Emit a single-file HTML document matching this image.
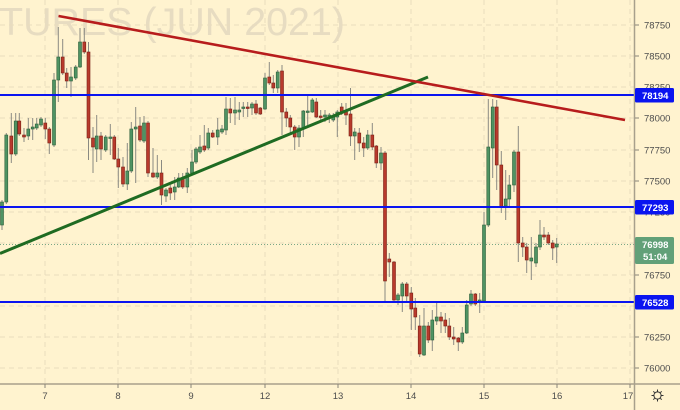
<!DOCTYPE html>
<html><head><meta charset="utf-8"><style>
html,body{margin:0;padding:0;background:#fff3cf;}
svg{display:block;}
.w{stroke:#8a8a82;stroke-width:1}
.g{fill:#4f9363;stroke:#2d5f3b;stroke-width:.6}
.r{fill:#b83a2c;stroke:#7a2016;stroke-width:.6}
.gr{stroke:#e9dcbd;stroke-width:1;stroke-dasharray:5 4}
.t{font-family:"Liberation Sans",sans-serif;font-size:9.5px;fill:#4d4d4d}
.lb{font-family:"Liberation Sans",sans-serif;font-size:9.5px;fill:#fff;font-weight:bold}
</style></head><body>
<svg width="680" height="410" viewBox="0 0 680 410" xmlns="http://www.w3.org/2000/svg">
<rect x="0" y="0" width="680" height="410" fill="#fff3cf"/>
<text x="-1" y="35" font-family="Liberation Sans, sans-serif" font-size="39" fill="#e7dcc1" textLength="346" lengthAdjust="spacingAndGlyphs">TURES (JUN 2021)</text>
<g class="gr">
<line x1="0" x2="634" y1="25" y2="25"/><line x1="0" x2="634" y1="56" y2="56"/><line x1="0" x2="634" y1="87" y2="87"/><line x1="0" x2="634" y1="118" y2="118"/><line x1="0" x2="634" y1="150" y2="150"/><line x1="0" x2="634" y1="181" y2="181"/><line x1="0" x2="634" y1="212" y2="212"/><line x1="0" x2="634" y1="243" y2="243"/><line x1="0" x2="634" y1="275" y2="275"/><line x1="0" x2="634" y1="306" y2="306"/><line x1="0" x2="634" y1="337" y2="337"/><line x1="0" x2="634" y1="368" y2="368"/>
<line x1="45" x2="45" y1="0" y2="384"/><line x1="118" x2="118" y1="0" y2="384"/><line x1="191" x2="191" y1="0" y2="384"/><line x1="265" x2="265" y1="0" y2="384"/><line x1="338" x2="338" y1="0" y2="384"/><line x1="411" x2="411" y1="0" y2="384"/><line x1="484" x2="484" y1="0" y2="384"/><line x1="557" x2="557" y1="0" y2="384"/><line x1="630" x2="630" y1="0" y2="384"/>
</g>
<line x1="0" x2="634" y1="244.5" y2="244.5" stroke="#7aa886" stroke-width="1" stroke-dasharray="1 2"/>
<g>
<line class="w" x1="2" x2="2" y1="200" y2="230"/><rect class="g" x="0.5" y="202" width="3" height="23"/>
<line class="w" x1="6.3" x2="6.3" y1="133" y2="204"/><rect class="g" x="4.8" y="135" width="3" height="67"/>
<line class="w" x1="11.3" x2="11.3" y1="113" y2="163"/><rect class="r" x="9.8" y="136" width="3" height="18"/>
<line class="w" x1="15.7" x2="15.7" y1="113" y2="156"/><rect class="g" x="14.2" y="121" width="3" height="33"/>
<line class="w" x1="19.3" x2="19.3" y1="113" y2="136"/><rect class="r" x="17.8" y="121" width="3" height="13"/>
<line class="w" x1="24" x2="24" y1="128" y2="142"/><rect class="r" x="22.5" y="135" width="3" height="2"/>
<line class="w" x1="28.3" x2="28.3" y1="118" y2="140"/><rect class="g" x="26.8" y="129" width="3" height="7"/>
<line class="w" x1="32.7" x2="32.7" y1="118" y2="140"/><rect class="g" x="31.2" y="127" width="3" height="2"/>
<line class="w" x1="36.7" x2="36.7" y1="118" y2="130"/><rect class="g" x="35.2" y="124" width="3" height="4"/>
<line class="w" x1="41" x2="41" y1="117" y2="127"/><rect class="g" x="39.5" y="119" width="3" height="6"/>
<line class="w" x1="45.3" x2="45.3" y1="118" y2="139"/><rect class="r" x="43.8" y="123" width="3" height="6"/>
<line class="w" x1="49.3" x2="49.3" y1="127" y2="154"/><rect class="r" x="47.8" y="129" width="3" height="14"/>
<line class="w" x1="54" x2="54" y1="73" y2="147"/><rect class="g" x="52.5" y="80" width="3" height="65"/>
<line class="w" x1="58.3" x2="58.3" y1="27" y2="102"/><rect class="g" x="56.8" y="57" width="3" height="23"/>
<line class="w" x1="62.7" x2="62.7" y1="39" y2="75"/><rect class="r" x="61.2" y="57" width="3" height="16"/>
<line class="w" x1="66.7" x2="66.7" y1="68" y2="88"/><rect class="r" x="65.2" y="73" width="3" height="8"/>
<line class="w" x1="71" x2="71" y1="67" y2="97"/><rect class="g" x="69.5" y="77" width="3" height="4"/>
<line class="w" x1="75.7" x2="75.7" y1="65" y2="80"/><rect class="g" x="74.2" y="67" width="3" height="11"/>
<line class="w" x1="80" x2="80" y1="28" y2="68"/><rect class="g" x="78.5" y="42" width="3" height="25"/>
<line class="w" x1="84.3" x2="84.3" y1="28" y2="54"/><rect class="r" x="82.8" y="42" width="3" height="10"/>
<line class="w" x1="88.5" x2="88.5" y1="42" y2="160"/><rect class="r" x="87" y="52" width="3" height="86"/>
<line class="w" x1="93" x2="93" y1="127" y2="173"/><rect class="r" x="91.5" y="138" width="3" height="9"/>
<line class="w" x1="96.7" x2="96.7" y1="115" y2="162"/><rect class="g" x="95.2" y="136" width="3" height="13"/>
<line class="w" x1="101" x2="101" y1="132" y2="160"/><rect class="r" x="99.5" y="136" width="3" height="13"/>
<line class="w" x1="105.7" x2="105.7" y1="135" y2="152"/><rect class="g" x="104.2" y="137" width="3" height="13"/>
<line class="w" x1="110.3" x2="110.3" y1="124" y2="155"/><rect class="g" x="108.8" y="137" width="3" height="1.5"/>
<line class="w" x1="114.3" x2="114.3" y1="135" y2="160"/><rect class="r" x="112.8" y="137" width="3" height="22"/>
<line class="w" x1="118.3" x2="118.3" y1="148" y2="188"/><rect class="r" x="116.8" y="159" width="3" height="8"/>
<line class="w" x1="123" x2="123" y1="157" y2="187"/><rect class="r" x="121.5" y="167" width="3" height="17"/>
<line class="w" x1="127.3" x2="127.3" y1="143" y2="190"/><rect class="g" x="125.8" y="171" width="3" height="13"/>
<line class="w" x1="131.3" x2="131.3" y1="122" y2="173"/><rect class="g" x="129.8" y="129" width="3" height="42"/>
<line class="w" x1="135.7" x2="135.7" y1="107" y2="183"/><rect class="g" x="134.2" y="127" width="3" height="2"/>
<line class="w" x1="140" x2="140" y1="117" y2="142"/><rect class="r" x="138.5" y="126" width="3" height="14"/>
<line class="w" x1="144" x2="144" y1="116" y2="143"/><rect class="g" x="142.5" y="123" width="3" height="18"/>
<line class="w" x1="148" x2="148" y1="121" y2="177"/><rect class="r" x="146.5" y="123" width="3" height="50"/>
<line class="w" x1="153" x2="153" y1="148" y2="178"/><rect class="r" x="151.5" y="173" width="3" height="4"/>
<line class="w" x1="157.3" x2="157.3" y1="155" y2="179"/><rect class="g" x="155.8" y="173" width="3" height="4"/>
<line class="w" x1="161.5" x2="161.5" y1="160" y2="205"/><rect class="r" x="160" y="173" width="3" height="22"/>
<line class="w" x1="166" x2="166" y1="188" y2="202"/><rect class="g" x="164.5" y="190" width="3" height="6"/>
<line class="w" x1="170.3" x2="170.3" y1="185" y2="200"/><rect class="r" x="168.8" y="188" width="3" height="5"/>
<line class="w" x1="174.7" x2="174.7" y1="177" y2="200"/><rect class="g" x="173.2" y="187" width="3" height="5"/>
<line class="w" x1="178.7" x2="178.7" y1="173" y2="188"/><rect class="g" x="177.2" y="178" width="3" height="9"/>
<line class="w" x1="182.7" x2="182.7" y1="173" y2="189"/><rect class="r" x="181.2" y="178" width="3" height="9"/>
<line class="w" x1="187.3" x2="187.3" y1="168" y2="193"/><rect class="g" x="185.8" y="173" width="3" height="14"/>
<line class="w" x1="192" x2="192" y1="150" y2="175"/><rect class="g" x="190.5" y="162" width="3" height="11"/>
<line class="w" x1="196" x2="196" y1="147" y2="164"/><rect class="g" x="194.5" y="149" width="3" height="13"/>
<line class="w" x1="200" x2="200" y1="135" y2="154"/><rect class="g" x="198.5" y="147" width="3" height="5"/>
<line class="w" x1="204.3" x2="204.3" y1="125" y2="152"/><rect class="r" x="202.8" y="146" width="3" height="4"/>
<line class="w" x1="208.3" x2="208.3" y1="128" y2="150"/><rect class="g" x="206.8" y="133" width="3" height="15"/>
<line class="w" x1="212.7" x2="212.7" y1="130" y2="138"/><rect class="r" x="211.2" y="133" width="3" height="4"/>
<line class="w" x1="217.7" x2="217.7" y1="118" y2="145"/><rect class="g" x="216.2" y="130" width="3" height="7"/>
<line class="w" x1="222" x2="222" y1="125" y2="134"/><rect class="g" x="220.5" y="129" width="3" height="3"/>
<line class="w" x1="226" x2="226" y1="97" y2="135"/><rect class="g" x="224.5" y="109" width="3" height="21"/>
<line class="w" x1="230.3" x2="230.3" y1="98" y2="123"/><rect class="r" x="228.8" y="109" width="3" height="4"/>
<line class="w" x1="235" x2="235" y1="97" y2="125"/><rect class="g" x="233.5" y="110" width="3" height="3"/>
<line class="w" x1="239.3" x2="239.3" y1="102" y2="120"/><rect class="g" x="237.8" y="110" width="3" height="2"/>
<line class="w" x1="243.3" x2="243.3" y1="102" y2="117"/><rect class="g" x="241.8" y="107" width="3" height="1.5"/>
<line class="w" x1="247.7" x2="247.7" y1="102" y2="117"/><rect class="r" x="246.2" y="107" width="3" height="1.5"/>
<line class="w" x1="252" x2="252" y1="102" y2="115"/><rect class="g" x="250.5" y="104" width="3" height="4"/>
<line class="w" x1="256" x2="256" y1="100" y2="115"/><rect class="r" x="254.5" y="104" width="3" height="9"/>
<line class="w" x1="260.3" x2="260.3" y1="107" y2="115"/><rect class="r" x="258.8" y="108" width="3" height="6"/>
<line class="w" x1="265" x2="265" y1="73" y2="110"/><rect class="g" x="263.5" y="78" width="3" height="31"/>
<line class="w" x1="269.3" x2="269.3" y1="62" y2="85"/><rect class="r" x="267.8" y="77" width="3" height="6"/>
<line class="w" x1="273.3" x2="273.3" y1="75" y2="93"/><rect class="r" x="271.8" y="83" width="3" height="5"/>
<line class="w" x1="277.7" x2="277.7" y1="70" y2="93"/><rect class="g" x="276.2" y="72" width="3" height="16"/>
<line class="w" x1="282" x2="282" y1="65" y2="135"/><rect class="r" x="280.5" y="71" width="3" height="41"/>
<line class="w" x1="286.3" x2="286.3" y1="108" y2="127"/><rect class="r" x="284.8" y="112" width="3" height="6"/>
<line class="w" x1="290.3" x2="290.3" y1="115" y2="133"/><rect class="r" x="288.8" y="118" width="3" height="9"/>
<line class="w" x1="294.7" x2="294.7" y1="125" y2="150"/><rect class="r" x="293.2" y="127" width="3" height="10"/>
<line class="w" x1="299" x2="299" y1="125" y2="147"/><rect class="g" x="297.5" y="128" width="3" height="9"/>
<line class="w" x1="303.3" x2="303.3" y1="110" y2="137"/><rect class="g" x="301.8" y="111" width="3" height="17"/>
<line class="w" x1="307.7" x2="307.7" y1="95" y2="125"/><rect class="g" x="306.2" y="111" width="3" height="1.5"/>
<line class="w" x1="312.3" x2="312.3" y1="98" y2="113"/><rect class="g" x="310.8" y="100" width="3" height="12"/>
<line class="w" x1="316.3" x2="316.3" y1="98" y2="118"/><rect class="r" x="314.8" y="102" width="3" height="15"/>
<line class="w" x1="320.7" x2="320.7" y1="110" y2="122"/><rect class="r" x="319.2" y="116" width="3" height="1.5"/>
<line class="w" x1="325" x2="325" y1="110" y2="122"/><rect class="g" x="323.5" y="115" width="3" height="2"/>
<line class="w" x1="329.3" x2="329.3" y1="113" y2="123"/><rect class="g" x="327.8" y="115" width="3" height="2"/>
<line class="w" x1="333.3" x2="333.3" y1="113" y2="122"/><rect class="g" x="331.8" y="117" width="3" height="3"/>
<line class="w" x1="337.3" x2="337.3" y1="110" y2="137"/><rect class="g" x="335.8" y="112" width="3" height="5"/>
<line class="w" x1="341.7" x2="341.7" y1="103" y2="115"/><rect class="r" x="340.2" y="107" width="3" height="5"/>
<line class="w" x1="346" x2="346" y1="103" y2="125"/><rect class="r" x="344.5" y="112" width="3" height="3"/>
<line class="w" x1="350.5" x2="350.5" y1="88" y2="146"/><rect class="r" x="349" y="114" width="3" height="22"/>
<line class="w" x1="354.7" x2="354.7" y1="128" y2="160"/><rect class="g" x="353.2" y="132" width="3" height="4"/>
<line class="w" x1="359.3" x2="359.3" y1="128" y2="152"/><rect class="r" x="357.8" y="133" width="3" height="10"/>
<line class="w" x1="363.7" x2="363.7" y1="137" y2="157"/><rect class="r" x="362.2" y="143" width="3" height="5"/>
<line class="w" x1="367.7" x2="367.7" y1="130" y2="150"/><rect class="g" x="366.2" y="135" width="3" height="13"/>
<line class="w" x1="372.3" x2="372.3" y1="123" y2="150"/><rect class="r" x="370.8" y="135" width="3" height="12"/>
<line class="w" x1="376.3" x2="376.3" y1="145" y2="168"/><rect class="r" x="374.8" y="146" width="3" height="17"/>
<line class="w" x1="381" x2="381" y1="147" y2="170"/><rect class="g" x="379.5" y="153" width="3" height="10"/>
<line class="w" x1="385" x2="385" y1="151" y2="302"/><rect class="r" x="383.5" y="153" width="3" height="128"/>
<line class="w" x1="389.3" x2="389.3" y1="253" y2="277"/><rect class="r" x="387.8" y="259" width="3" height="3"/>
<line class="w" x1="394" x2="394" y1="261" y2="302"/><rect class="r" x="392.5" y="262" width="3" height="38"/>
<line class="w" x1="398" x2="398" y1="293" y2="305"/><rect class="g" x="396.5" y="295" width="3" height="5"/>
<line class="w" x1="402.3" x2="402.3" y1="282" y2="312"/><rect class="g" x="400.8" y="284" width="3" height="12"/>
<line class="w" x1="406.7" x2="406.7" y1="282" y2="302"/><rect class="r" x="405.2" y="284" width="3" height="12"/>
<line class="w" x1="411.3" x2="411.3" y1="287" y2="330"/><rect class="r" x="409.8" y="293" width="3" height="16"/>
<line class="w" x1="415.3" x2="415.3" y1="298" y2="330"/><rect class="r" x="413.8" y="308" width="3" height="9"/>
<line class="w" x1="419.7" x2="419.7" y1="315" y2="357"/><rect class="r" x="418.2" y="326" width="3" height="28"/>
<line class="w" x1="424" x2="424" y1="308" y2="356"/><rect class="g" x="422.5" y="326" width="3" height="29"/>
<line class="w" x1="428.3" x2="428.3" y1="322" y2="343"/><rect class="r" x="426.8" y="326" width="3" height="14"/>
<line class="w" x1="432.3" x2="432.3" y1="310" y2="351"/><rect class="g" x="430.8" y="320" width="3" height="20"/>
<line class="w" x1="436.7" x2="436.7" y1="303" y2="325"/><rect class="g" x="435.2" y="317" width="3" height="4"/>
<line class="w" x1="441" x2="441" y1="312" y2="333"/><rect class="r" x="439.5" y="317" width="3" height="4"/>
<line class="w" x1="445.3" x2="445.3" y1="313" y2="333"/><rect class="r" x="443.8" y="320" width="3" height="6"/>
<line class="w" x1="449.3" x2="449.3" y1="318" y2="340"/><rect class="r" x="447.8" y="326" width="3" height="11"/>
<line class="w" x1="453.7" x2="453.7" y1="327" y2="345"/><rect class="r" x="452.2" y="337" width="3" height="2"/>
<line class="w" x1="458.3" x2="458.3" y1="337" y2="351"/><rect class="r" x="456.8" y="338" width="3" height="4"/>
<line class="w" x1="462.3" x2="462.3" y1="327" y2="344"/><rect class="g" x="460.8" y="333" width="3" height="9"/>
<line class="w" x1="466.7" x2="466.7" y1="300" y2="334"/><rect class="g" x="465.2" y="305" width="3" height="28"/>
<line class="w" x1="471" x2="471" y1="290" y2="306"/><rect class="g" x="469.5" y="294" width="3" height="10"/>
<line class="w" x1="475.3" x2="475.3" y1="293" y2="306"/><rect class="r" x="473.8" y="294" width="3" height="10"/>
<line class="w" x1="479.7" x2="479.7" y1="293" y2="313"/><rect class="g" x="478.2" y="300" width="3" height="2"/>
<line class="w" x1="484" x2="484" y1="212" y2="302"/><rect class="g" x="482.5" y="225" width="3" height="76"/>
<line class="w" x1="488.3" x2="488.3" y1="99" y2="227"/><rect class="g" x="486.8" y="147" width="3" height="78"/>
<line class="w" x1="492.7" x2="492.7" y1="99" y2="178"/><rect class="g" x="491.2" y="107" width="3" height="41"/>
<line class="w" x1="496.7" x2="496.7" y1="100" y2="190"/><rect class="r" x="495.2" y="107" width="3" height="58"/>
<line class="w" x1="501.3" x2="501.3" y1="151" y2="213"/><rect class="r" x="499.8" y="165" width="3" height="42"/>
<line class="w" x1="505.7" x2="505.7" y1="170" y2="220"/><rect class="g" x="504.2" y="199" width="3" height="7"/>
<line class="w" x1="509.3" x2="509.3" y1="175" y2="207"/><rect class="g" x="507.8" y="185" width="3" height="14"/>
<line class="w" x1="514" x2="514" y1="150" y2="192"/><rect class="g" x="512.5" y="152" width="3" height="33"/>
<line class="w" x1="518.3" x2="518.3" y1="126" y2="262"/><rect class="r" x="516.8" y="152" width="3" height="91"/>
<line class="w" x1="522.7" x2="522.7" y1="237" y2="257"/><rect class="r" x="521.2" y="243" width="3" height="4"/>
<line class="w" x1="526.7" x2="526.7" y1="243" y2="273"/><rect class="r" x="525.2" y="247" width="3" height="13"/>
<line class="w" x1="531.3" x2="531.3" y1="237" y2="280"/><rect class="g" x="529.8" y="258" width="3" height="3"/>
<line class="w" x1="536" x2="536" y1="243" y2="267"/><rect class="g" x="534.5" y="247" width="3" height="16"/>
<line class="w" x1="540" x2="540" y1="220" y2="250"/><rect class="g" x="538.5" y="235" width="3" height="12"/>
<line class="w" x1="544" x2="544" y1="227" y2="240"/><rect class="r" x="542.5" y="235" width="3" height="2"/>
<line class="w" x1="548.3" x2="548.3" y1="232" y2="245"/><rect class="r" x="546.8" y="235" width="3" height="8"/>
<line class="w" x1="552.7" x2="552.7" y1="240" y2="260"/><rect class="r" x="551.2" y="243" width="3" height="5"/>
<line class="w" x1="556.7" x2="556.7" y1="238" y2="263"/><rect class="g" x="555.2" y="244" width="3" height="3"/>
</g>
<line x1="0" y1="95" x2="634" y2="95" stroke="#0a14f0" stroke-width="2"/>
<line x1="0" y1="207" x2="634" y2="207" stroke="#0a14f0" stroke-width="2"/>
<line x1="0" y1="302" x2="634" y2="302" stroke="#0a14f0" stroke-width="2"/>
<line x1="0" y1="253.5" x2="428" y2="77" stroke="#1f6b22" stroke-width="3"/>
<line x1="58.5" y1="16" x2="625" y2="120" stroke="#b71c1c" stroke-width="2.6"/>
<rect x="635" y="0" width="45" height="384" fill="#fff3cf"/>
<line x1="0" y1="384" x2="680" y2="384" stroke="#a8a08c" stroke-width="1.5"/>
<line x1="634.5" y1="0" x2="634.5" y2="410" stroke="#a8a08c" stroke-width="1.5"/>
<g stroke="#8a8578" stroke-width="1">
<line x1="635" x2="639" y1="25" y2="25"/><line x1="635" x2="639" y1="56" y2="56"/><line x1="635" x2="639" y1="118" y2="118"/><line x1="635" x2="639" y1="150" y2="150"/><line x1="635" x2="639" y1="181" y2="181"/><line x1="635" x2="639" y1="275" y2="275"/><line x1="635" x2="639" y1="337" y2="337"/><line x1="635" x2="639" y1="368" y2="368"/>
<line x1="45" x2="45" y1="384" y2="388"/><line x1="118" x2="118" y1="384" y2="388"/><line x1="191" x2="191" y1="384" y2="388"/><line x1="265" x2="265" y1="384" y2="388"/><line x1="338" x2="338" y1="384" y2="388"/><line x1="411" x2="411" y1="384" y2="388"/><line x1="484" x2="484" y1="384" y2="388"/><line x1="557" x2="557" y1="384" y2="388"/><line x1="630" x2="630" y1="384" y2="388"/>
</g>
<g class="t">
<text x="644" y="28.5">78750</text>
<text x="644" y="59.5">78500</text>
<text x="644" y="90.5">78250</text>
<text x="644" y="121.5">78000</text>
<text x="644" y="153.5">77750</text>
<text x="644" y="184.5">77500</text>
<text x="644" y="215.5">77250</text>
<text x="644" y="278.5">76750</text>
<text x="644" y="340.5">76250</text>
<text x="644" y="371.5">76000</text>
</g>
<g class="t" text-anchor="middle">
<text x="45" y="399">7</text><text x="118" y="399">8</text><text x="191" y="399">9</text><text x="265" y="399">12</text><text x="338" y="399">13</text><text x="411" y="399">14</text><text x="484" y="399">15</text><text x="557" y="399">16</text><text x="628" y="399">17</text>
</g>
<rect x="635" y="88" width="39" height="14.5" rx="1.5" fill="#0a14f0"/>
<text class="lb" x="642" y="99">78194</text>
<rect x="635" y="200" width="39" height="14.5" rx="1.5" fill="#0a14f0"/>
<text class="lb" x="642" y="211">77293</text>
<rect x="635" y="295" width="39" height="14.5" rx="1.5" fill="#0a14f0"/>
<text class="lb" x="642" y="306">76528</text>
<rect x="635" y="237" width="39" height="27" rx="1.5" fill="#62a078"/>
<text class="lb" x="642" y="248">76998</text>
<text class="lb" x="643" y="260">51:04</text>
<g stroke="#333" stroke-width="1" fill="none">
<circle cx="657.5" cy="395.5" r="3.6"/>
<line x1="657.5" y1="389.5" x2="657.5" y2="391.5"/><line x1="657.5" y1="399.5" x2="657.5" y2="401.5"/>
<line x1="651.5" y1="395.5" x2="653.5" y2="395.5"/><line x1="661.5" y1="395.5" x2="663.5" y2="395.5"/>
<line x1="653.3" y1="391.3" x2="654.6" y2="392.6"/><line x1="660.4" y1="398.4" x2="661.7" y2="399.7"/>
<line x1="661.7" y1="391.3" x2="660.4" y2="392.6"/><line x1="654.6" y1="398.4" x2="653.3" y2="399.7"/>
</g>
</svg>
</body></html>
